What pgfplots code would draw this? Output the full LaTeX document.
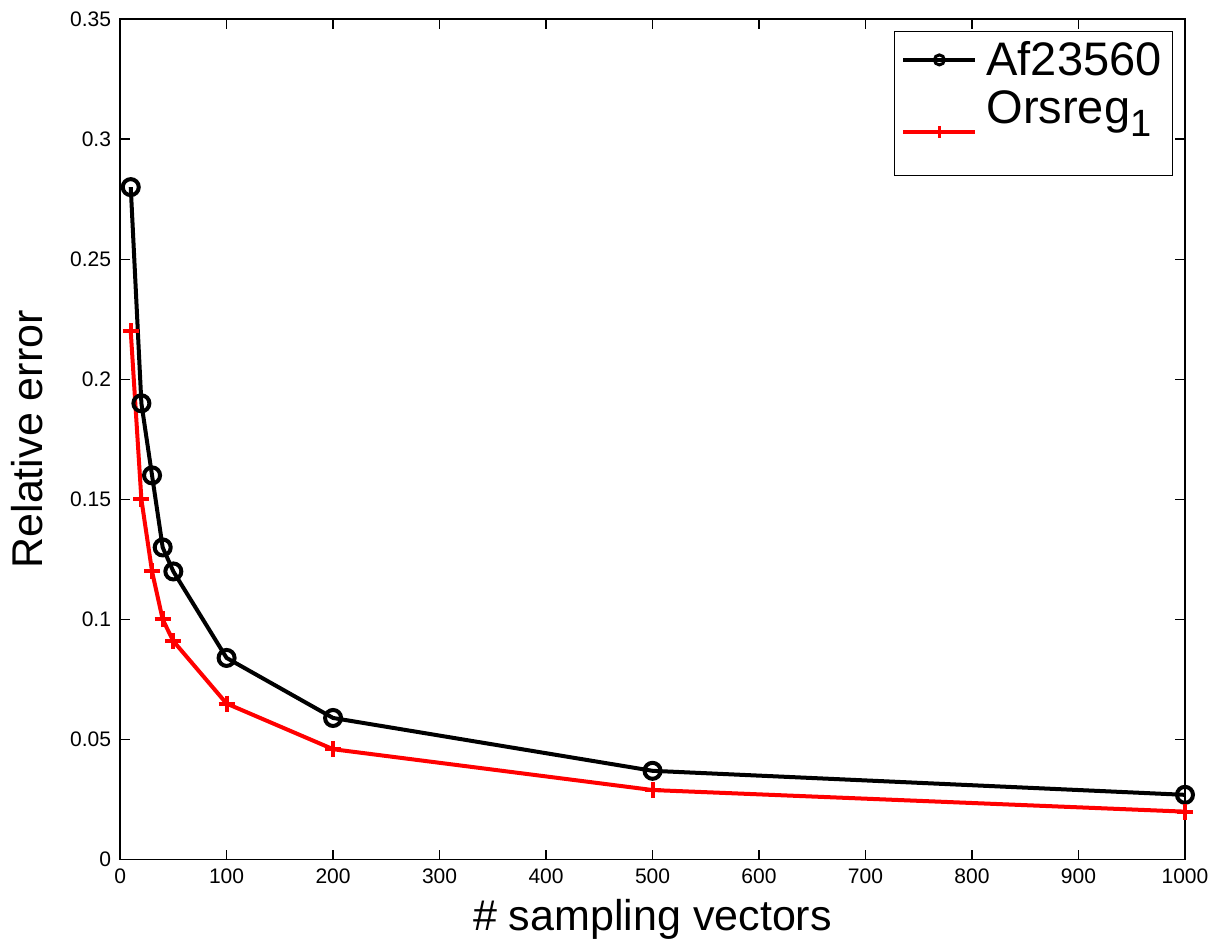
\documentclass[border=0pt]{standalone}
\usepackage{fontspec}
\setmainfont{Liberation Sans}
\usepackage{pgfplots}
\pgfplotsset{compat=1.18}
\begin{document}
\begin{tikzpicture}
\begin{axis}[
  scale only axis,
  width=532pt, height=420pt,
  xmin=0, xmax=1000, ymin=0, ymax=0.35,
  xtick={0,100,200,300,400,500,600,700,800,900,1000},
  xticklabels={0,100,200,300,400,500,600,700,800,900,1000},
  ytick={0,0.05,0.1,0.15,0.2,0.25,0.3,0.35},
  yticklabels={0,0.05,0.1,0.15,0.2,0.25,0.3,0.35},
  tick align=inside,
  major tick length=5pt,
  axis line style={line width=0.6pt},
  every tick/.style={line width=0.6pt, black},
  tick label style={font=\fontsize{10.5}{12}\selectfont},
  /pgf/number format/assume math mode=true,
  xticklabel style={yshift=-1pt},
  yticklabel style={xshift=-1pt},
  xlabel={\# sampling vectors},
  ylabel={Relative error},
  label style={font=\fontsize{21.5}{24}\selectfont},
  xlabel style={yshift=-1pt},
  ylabel style={yshift=6.5pt},
  legend style={at={(0.989,0.986)}, anchor=north east, draw=black, line width=0.6pt,
    font=\fontsize{23.5}{26}\selectfont, inner xsep=3.5pt, inner ysep=3pt,
    row sep=2pt},
  legend cell align=left,
]
\addplot[black, line width=2pt, mark=o, mark size=4pt, mark options={line width=2pt},
  legend image code/.code={
    \draw[mark repeat=2,mark phase=2,mark size=2.5pt,mark options={line width=1.5pt}] plot coordinates {(0pt,0pt) (18pt,0pt) (36pt,0pt)};
    \path (38.5pt,0pt);
  }] coordinates {
  (10,0.28) (20,0.19) (30,0.16) (40,0.13) (50,0.12) (100,0.084) (200,0.059) (500,0.037) (1000,0.027)
};
\addlegendentry{Af23560}
\addplot[red, line width=2pt, mark=+, mark size=4pt, mark options={line width=2pt},
  legend image code/.code={
    \draw[mark repeat=2,mark phase=2,mark size=3pt,mark options={line width=1.5pt}] plot coordinates {(0pt,-2pt) (18pt,-2pt) (36pt,-2pt)};
    \path (38.5pt,0pt);
  }] coordinates {
  (10,0.22) (20,0.15) (30,0.12) (40,0.10) (50,0.091) (100,0.065) (200,0.046) (500,0.029) (1000,0.020)
};
\addlegendentry[text depth=21pt]{Orsreg\raisebox{-0.55ex}{\fontsize{19}{20}\selectfont 1}}
\end{axis}
\pgfresetboundingbox
\path (current axis.south west) ++(-60pt,-40pt) coordinate (bbsw);
\path (current axis.north east) ++(14pt,9.5pt) coordinate (bbne);
\path (bbsw) rectangle (bbne);
\end{tikzpicture}
\end{document}
